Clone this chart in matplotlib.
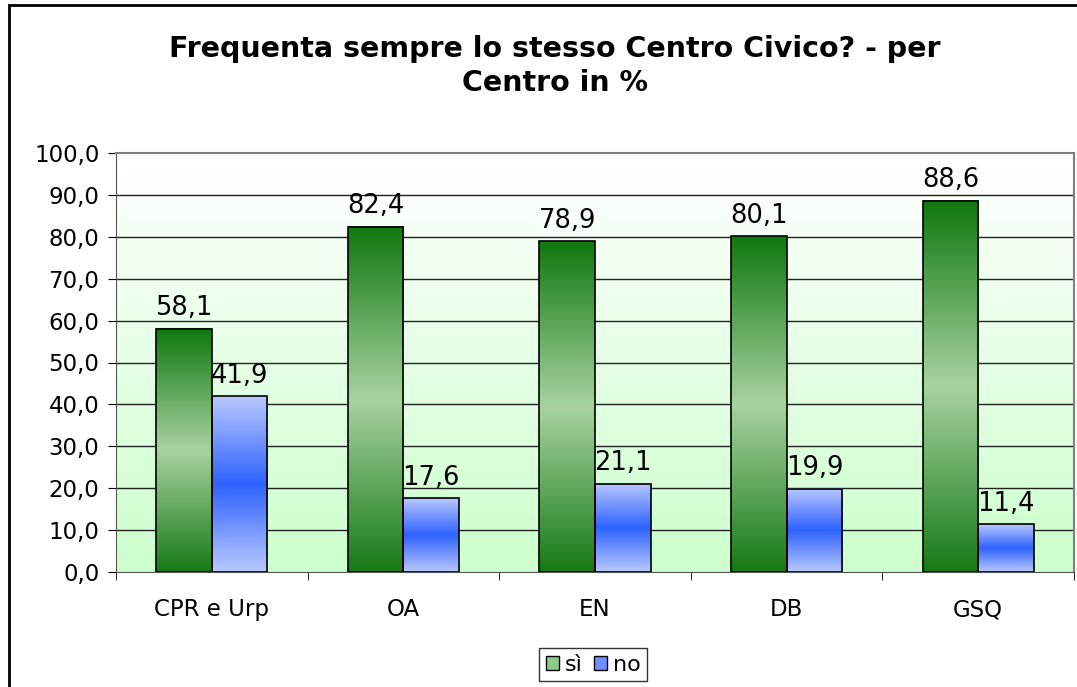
import matplotlib
matplotlib.use("Agg")
import matplotlib.pyplot as plt
import numpy as np
from matplotlib.colors import LinearSegmentedColormap
from matplotlib.patches import Rectangle

centri = ["CPR e Urp", "OA", "EN", "DB", "GSQ"]
si = [58.1, 82.4, 78.9, 80.1, 88.6]
no = [41.9, 17.6, 21.1, 19.9, 11.4]
y_ticks = [0, 10, 20, 30, 40, 50, 60, 70, 80, 90, 100]

green_cmap = LinearSegmentedColormap.from_list("g", ["#167a16", "#a8d3a0", "#0f780f"])
blue_cmap = LinearSegmentedColormap.from_list("b", ["#b8c8ff", "#2f62ff", "#b8c8ff"])
bg_cmap = LinearSegmentedColormap.from_list("bg", ["#ccffcc", "#ffffff"])

fig = plt.figure(figsize=(10.77, 6.87), dpi=100)
# outer chart border
fig.patches.append(Rectangle((9 / 1077, -0.01), 1.2, 1 - 5 / 687 + 0.01, transform=fig.transFigure,
                             fill=False, edgecolor="black", linewidth=2))

ax = fig.add_axes([116 / 1077, 1 - 572 / 687, (1074 - 116) / 1077, (572 - 153) / 687])
ax.set_xlim(-0.5, len(centri) - 0.5)
ax.set_ylim(0, 100)

# plot area gradient
grad = np.linspace(0, 1, 256).reshape(-1, 1)
ax.imshow(grad, aspect="auto", cmap=bg_cmap, origin="lower", extent=(0, 1, 0, 1),
          transform=ax.transAxes, zorder=0)

for y in y_ticks[1:-1]:
    ax.axhline(y, color="#222222", linewidth=1, zorder=1)

x = np.arange(len(centri))
w = 0.29
bars_si = ax.bar(x - w / 2, si, w, facecolor="none", edgecolor="black", linewidth=1.2, zorder=3)
bars_no = ax.bar(x + w / 2, no, w, facecolor="none", edgecolor="black", linewidth=1.2, zorder=3)

vgrad = np.linspace(0, 1, 256).reshape(-1, 1)
for bars, cmap in [(bars_si, green_cmap), (bars_no, blue_cmap)]:
    for b in bars:
        x0, h = b.get_x(), b.get_height()
        ax.imshow(vgrad, aspect="auto", cmap=cmap, origin="lower",
                  extent=(x0, x0 + b.get_width(), 0, h), zorder=2)

for bars, vals in [(bars_si, si), (bars_no, no)]:
    for b, v in zip(bars, vals):
        ax.text(b.get_x() + b.get_width() / 2, v + 1.8, f"{v:.1f}".replace(".", ","),
                ha="center", va="bottom", fontsize=18.5, color="black", zorder=4)

ax.set_xlim(-0.5, len(centri) - 0.5)
ax.set_ylim(0, 100)
ax.set_yticks(y_ticks)
ax.set_yticklabels([f"{v:.1f}".replace(".", ",") for v in y_ticks], fontsize=16.5)
ax.set_xticks(x)
ax.set_xticklabels(centri, fontsize=16.5)
ax.set_xticks(np.arange(-0.5, len(centri)), minor=True)
ax.tick_params(axis="x", which="major", length=0, pad=19)
ax.tick_params(axis="x", which="minor", length=6, color="black", direction="out")
ax.tick_params(axis="y", length=6, color="black", direction="out", pad=6)

for side in ["top", "right"]:
    ax.spines[side].set_color("#808080")
    ax.spines[side].set_linewidth(1.5)
ax.spines["left"].set_color("#555555")
ax.spines["bottom"].set_color("#555555")

fig.text(0.515, 1 - 66 / 687, "Frequenta sempre lo stesso Centro Civico? - per\nCentro in %",
         ha="center", va="center", fontsize=20.5, fontweight="bold", linespacing=1.3)

h1 = Rectangle((0, 0), 1, 1, facecolor="#8cc98c", edgecolor="black")
h2 = Rectangle((0, 0), 1, 1, facecolor="#6f8fff", edgecolor="black")
leg = fig.legend([h1, h2], ["sì", "no"], loc="upper center", bbox_to_anchor=(593 / 1077, 1 - 648 / 687),
                 ncol=2, fontsize=16, frameon=True, fancybox=False, edgecolor="black",
                 handlelength=0.6, handleheight=0.6, handletextpad=0.25, columnspacing=0.5,
                 borderpad=0.3, borderaxespad=0)
leg.get_frame().set_linewidth(1)

fig.savefig("out.png", dpi=100)
